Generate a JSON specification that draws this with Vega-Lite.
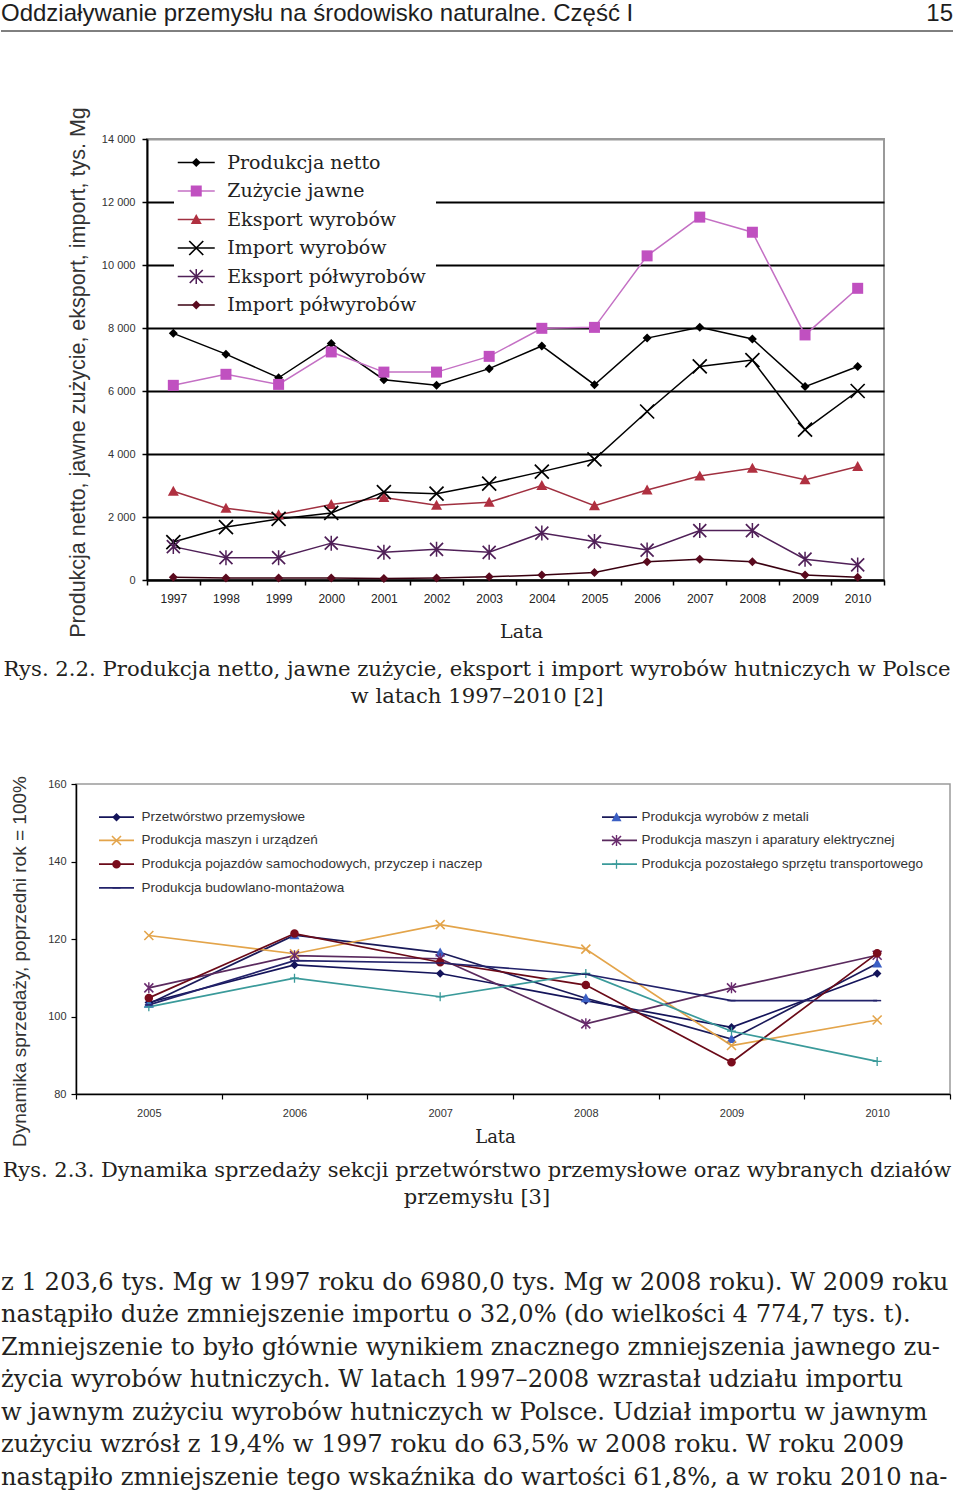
{
  "$schema": "https://vega.github.io/schema/vega-lite/v6.json",
  "background": "white",
  "padding": 0,
  "spacing": 0,
  "config": {"view": {"stroke": null}},
  "resolve": {"scale": {"color": "independent", "stroke": "independent", "shape": "independent", "x": "independent", "y": "independent"}, "legend": {"color": "independent", "stroke": "independent", "shape": "independent"}},
  "vconcat": [
    {
      "width": 952, "height": 31,
      "layer": [
        {
          "data": {"values": [{"t": "Oddziaływanie przemysłu na środowisko naturalne. Część I", "s": "L"}]},
          "mark": {"type": "text", "align": "left", "baseline": "middle", "font": "Liberation Sans", "fontSize": 24, "color": "#1e1e1e"},
          "encoding": {
            "x": {"field": "s", "type": "nominal", "scale": {"type": "point", "domain": ["L", "R"], "padding": 0}, "axis": null},
            "y": {"datum": 0.55, "type": "quantitative", "scale": {"domain": [0, 1]}, "axis": null},
            "text": {"field": "t"}
          }
        },
        {
          "data": {"values": [{"t": "15", "s": "R"}]},
          "mark": {"type": "text", "align": "right", "baseline": "middle", "font": "Liberation Sans", "fontSize": 24, "color": "#1e1e1e"},
          "encoding": {
            "x": {"field": "s", "type": "nominal", "scale": {"type": "point", "domain": ["L", "R"], "padding": 0}, "axis": null},
            "y": {"datum": 0.55, "type": "quantitative", "scale": {"domain": [0, 1]}, "axis": null},
            "text": {"field": "t"}
          }
        },
        {
          "data": {"values": [{"r": 1}]},
          "mark": {"type": "rule", "color": "#000000", "strokeWidth": 1},
          "encoding": {"y": {"datum": 0, "type": "quantitative", "scale": {"domain": [0, 1]}, "axis": null}}
        }
      ]
    },
    {"width": 952, "height": 73, "data": {"values": [{"s": 0}]}, "mark": {"type": "point", "opacity": 0}},
    {
      "spacing": 0,
      "resolve": {"scale": {"color": "independent", "stroke": "independent", "shape": "independent"}, "legend": {"color": "independent", "stroke": "independent", "shape": "independent"}},
      "hconcat": [
        {"width": 65, "height": 10, "data": {"values": [{"s": 0}]}, "mark": {"type": "point", "opacity": 0}},
        {
          "width": 737, "height": 441,
          "view": {"stroke": "#9a9a9a", "strokeWidth": 2},
          "data": {"values": [
            {"rok": 1997, "seria": "Produkcja netto", "v": 7830},
            {"rok": 1998, "seria": "Produkcja netto", "v": 7170},
            {"rok": 1999, "seria": "Produkcja netto", "v": 6420},
            {"rok": 2000, "seria": "Produkcja netto", "v": 7510},
            {"rok": 2001, "seria": "Produkcja netto", "v": 6360},
            {"rok": 2002, "seria": "Produkcja netto", "v": 6180},
            {"rok": 2003, "seria": "Produkcja netto", "v": 6710},
            {"rok": 2004, "seria": "Produkcja netto", "v": 7430},
            {"rok": 2005, "seria": "Produkcja netto", "v": 6200},
            {"rok": 2006, "seria": "Produkcja netto", "v": 7680},
            {"rok": 2007, "seria": "Produkcja netto", "v": 8020},
            {"rok": 2008, "seria": "Produkcja netto", "v": 7650},
            {"rok": 2009, "seria": "Produkcja netto", "v": 6140},
            {"rok": 2010, "seria": "Produkcja netto", "v": 6780},
            {"rok": 1997, "seria": "Zużycie jawne", "v": 6180},
            {"rok": 1998, "seria": "Zużycie jawne", "v": 6530},
            {"rok": 1999, "seria": "Zużycie jawne", "v": 6210},
            {"rok": 2000, "seria": "Zużycie jawne", "v": 7240},
            {"rok": 2001, "seria": "Zużycie jawne", "v": 6600},
            {"rok": 2002, "seria": "Zużycie jawne", "v": 6600},
            {"rok": 2003, "seria": "Zużycie jawne", "v": 7100},
            {"rok": 2004, "seria": "Zużycie jawne", "v": 7990},
            {"rok": 2005, "seria": "Zużycie jawne", "v": 8020},
            {"rok": 2006, "seria": "Zużycie jawne", "v": 10290},
            {"rok": 2007, "seria": "Zużycie jawne", "v": 11520},
            {"rok": 2008, "seria": "Zużycie jawne", "v": 11040},
            {"rok": 2009, "seria": "Zużycie jawne", "v": 7780},
            {"rok": 2010, "seria": "Zużycie jawne", "v": 9260},
            {"rok": 1997, "seria": "Eksport wyrobów", "v": 2820},
            {"rok": 1998, "seria": "Eksport wyrobów", "v": 2280},
            {"rok": 1999, "seria": "Eksport wyrobów", "v": 2070},
            {"rok": 2000, "seria": "Eksport wyrobów", "v": 2400},
            {"rok": 2001, "seria": "Eksport wyrobów", "v": 2620},
            {"rok": 2002, "seria": "Eksport wyrobów", "v": 2370},
            {"rok": 2003, "seria": "Eksport wyrobów", "v": 2470},
            {"rok": 2004, "seria": "Eksport wyrobów", "v": 3000},
            {"rok": 2005, "seria": "Eksport wyrobów", "v": 2360},
            {"rok": 2006, "seria": "Eksport wyrobów", "v": 2860},
            {"rok": 2007, "seria": "Eksport wyrobów", "v": 3300},
            {"rok": 2008, "seria": "Eksport wyrobów", "v": 3550},
            {"rok": 2009, "seria": "Eksport wyrobów", "v": 3180},
            {"rok": 2010, "seria": "Eksport wyrobów", "v": 3600},
            {"rok": 1997, "seria": "Import wyrobów", "v": 1204},
            {"rok": 1998, "seria": "Import wyrobów", "v": 1680},
            {"rok": 1999, "seria": "Import wyrobów", "v": 1940},
            {"rok": 2000, "seria": "Import wyrobów", "v": 2130},
            {"rok": 2001, "seria": "Import wyrobów", "v": 2790},
            {"rok": 2002, "seria": "Import wyrobów", "v": 2740},
            {"rok": 2003, "seria": "Import wyrobów", "v": 3060},
            {"rok": 2004, "seria": "Import wyrobów", "v": 3440},
            {"rok": 2005, "seria": "Import wyrobów", "v": 3830},
            {"rok": 2006, "seria": "Import wyrobów", "v": 5350},
            {"rok": 2007, "seria": "Import wyrobów", "v": 6780},
            {"rok": 2008, "seria": "Import wyrobów", "v": 6980},
            {"rok": 2009, "seria": "Import wyrobów", "v": 4775},
            {"rok": 2010, "seria": "Import wyrobów", "v": 6000},
            {"rok": 1997, "seria": "Eksport półwyrobów", "v": 1060},
            {"rok": 1998, "seria": "Eksport półwyrobów", "v": 710},
            {"rok": 1999, "seria": "Eksport półwyrobów", "v": 710},
            {"rok": 2000, "seria": "Eksport półwyrobów", "v": 1170},
            {"rok": 2001, "seria": "Eksport półwyrobów", "v": 880},
            {"rok": 2002, "seria": "Eksport półwyrobów", "v": 975},
            {"rok": 2003, "seria": "Eksport półwyrobów", "v": 880},
            {"rok": 2004, "seria": "Eksport półwyrobów", "v": 1490},
            {"rok": 2005, "seria": "Eksport półwyrobów", "v": 1220},
            {"rok": 2006, "seria": "Eksport półwyrobów", "v": 950},
            {"rok": 2007, "seria": "Eksport półwyrobów", "v": 1570},
            {"rok": 2008, "seria": "Eksport półwyrobów", "v": 1570},
            {"rok": 2009, "seria": "Eksport półwyrobów", "v": 660},
            {"rok": 2010, "seria": "Eksport półwyrobów", "v": 480},
            {"rok": 1997, "seria": "Import półwyrobów", "v": 90},
            {"rok": 1998, "seria": "Import półwyrobów", "v": 60},
            {"rok": 1999, "seria": "Import półwyrobów", "v": 60},
            {"rok": 2000, "seria": "Import półwyrobów", "v": 60},
            {"rok": 2001, "seria": "Import półwyrobów", "v": 50},
            {"rok": 2002, "seria": "Import półwyrobów", "v": 60},
            {"rok": 2003, "seria": "Import półwyrobów", "v": 100},
            {"rok": 2004, "seria": "Import półwyrobów", "v": 160},
            {"rok": 2005, "seria": "Import półwyrobów", "v": 240},
            {"rok": 2006, "seria": "Import półwyrobów", "v": 580},
            {"rok": 2007, "seria": "Import półwyrobów", "v": 660},
            {"rok": 2008, "seria": "Import półwyrobów", "v": 580},
            {"rok": 2009, "seria": "Import półwyrobów", "v": 160},
            {"rok": 2010, "seria": "Import półwyrobów", "v": 85}
          ]},
          "encoding": {
            "x": {"field": "rok", "type": "ordinal", "scale": {"type": "band", "paddingInner": 0, "paddingOuter": 0},
              "axis": {"title": "Lata", "titleFont": "DejaVu Serif", "titleFontSize": 19, "titleFontWeight": "normal", "titleColor": "#222222", "titlePadding": 18, "titleX": 374,
                "labelFont": "Liberation Sans", "labelFontSize": 12, "labelColor": "#222222", "labelAngle": 0, "labelPadding": 8,
                "tickBand": "extent", "tickSize": 5, "tickColor": "#000000", "tickWidth": 1.5, "domainColor": "#000000", "domainWidth": 2, "grid": false}},
            "y": {"field": "v", "type": "quantitative", "scale": {"domain": [0, 14000], "nice": false},
              "axis": {"title": "Produkcja netto, jawne zużycie, eksport, import, tys. Mg", "values": [0, 2000, 4000, 6000, 8000, 10000, 12000, 14000],
                "labelExpr": "replace(format(datum.value, ','), ',', ' ')",
                "grid": true, "gridColor": {"condition": {"test": "datum.value >= 14000", "value": "#9a9a9a"}, "value": "#000000"}, "gridWidth": 2,
                "domainColor": "#000000", "domainWidth": 2, "tickColor": "#000000", "tickSize": 5, "tickWidth": 1.5,
                "labelFont": "Liberation Sans", "labelFontSize": 11, "labelColor": "#333333", "labelPadding": 7,
                "titleFont": "Liberation Sans", "titleFontSize": 21.5, "titleFontWeight": "normal", "titleColor": "#333333", "titlePadding": 12, "titleY": 233}}
          },
          "layer": [
            {
              "mark": {"type": "line", "strokeWidth": 1.5},
              "encoding": {
                "stroke": {"field": "seria", "type": "nominal",
                  "sort": ["Produkcja netto", "Zużycie jawne", "Eksport wyrobów", "Import wyrobów", "Eksport półwyrobów", "Import półwyrobów"],
                  "scale": {"range": ["#000000", "#c470c4", "#a03040", "#000000", "#502058", "#3a0010"]},
                  "legend": {"orient": "none", "legendX": 27, "legendY": 4, "title": null, "fillColor": "#ffffff", "padding": 10,
                    "symbolType": "M-3.7,0H3.7", "symbolSize": 100, "symbolStrokeWidth": 1.5, "symbolOffset": 2.75, "rowPadding": 8.5,
                    "labelFont": "DejaVu Serif", "labelFontSize": 19, "labelColor": "#222222", "labelOpacity": 0, "labelOffset": 21.5, "labelLimit": 600}}
              }
            },
            {
              "mark": {"type": "point", "filled": true, "size": 100, "opacity": 1},
              "encoding": {
                "shape": {"field": "seria", "type": "nominal",
                  "scale": {"domain": ["Produkcja netto", "Zużycie jawne", "Eksport wyrobów", "Import wyrobów", "Eksport półwyrobów", "Import półwyrobów"],
                    "range": ["M0,-0.9L0.9,0L0,0.9L-0.9,0Z", "M-1.1,-1.1H1.1V1.1H-1.1Z", "M0,-1.1L1.1,0.9H-1.1Z",
                      "M-1.28,-1.52L1.52,1.28L1.28,1.52L-1.52,-1.28ZM-1.28,1.52L-1.52,1.28L1.28,-1.52L1.52,-1.28Z",
                      "M-1.18,-1.42L1.42,1.18L1.18,1.42L-1.42,-1.18ZM-1.18,1.42L-1.42,1.18L1.18,-1.42L1.42,-1.18ZM-0.15,-1.5H0.15V1.5H-0.15Z",
                      "M0,-0.9L0.9,0L0,0.9L-0.9,0Z"]}},
                "color": {"field": "seria", "type": "nominal",
                  "scale": {"domain": ["Produkcja netto", "Zużycie jawne", "Eksport wyrobów", "Import wyrobów", "Eksport półwyrobów", "Import półwyrobów"],
                    "range": ["#000000", "#c050c0", "#b03040", "#000000", "#502058", "#5a0a1e"]},
                  "legend": {"orient": "none", "legendX": 27, "legendY": 4, "title": null, "padding": 10,
                    "symbolSize": 100, "symbolStrokeWidth": 1.5, "symbolOffset": 2.75, "rowPadding": 8.5,
                    "labelFont": "DejaVu Serif", "labelFontSize": 19, "labelColor": "#222222", "labelOffset": 21.5, "labelLimit": 600}}
              }
            }
          ]
        }
      ]
    },
    {
      "width": 952, "height": 83,
      "data": {"values": [{"t": "Rys. 2.2. Produkcja netto, jawne zużycie, eksport i import wyrobów hutniczych w Polsce\nw latach 1997–2010 [2]"}]},
      "mark": {"type": "text", "font": "DejaVu Serif", "fontSize": 21.2, "lineHeight": 27, "lineBreak": "\n", "align": "center", "baseline": "middle", "color": "#231f20"},
      "encoding": {"text": {"field": "t"}, "y": {"datum": 0.663, "type": "quantitative", "scale": {"domain": [0, 1]}, "axis": null}}
    },
    {"width": 952, "height": 49, "data": {"values": [{"s": 0}]}, "mark": {"type": "point", "opacity": 0}},
    {
      "spacing": 0,
      "resolve": {"scale": {"color": "independent", "stroke": "independent", "shape": "independent"}, "legend": {"color": "independent", "stroke": "independent", "shape": "independent"}},
      "hconcat": [
        {"width": 8, "height": 10, "data": {"values": [{"s": 0}]}, "mark": {"type": "point", "opacity": 0}},
        {
          "width": 874, "height": 310,
          "view": {"stroke": "#9a9a9a", "strokeWidth": 1.5},
          "data": {"values": [
            {"rok": 2005, "seria": "Przetwórstwo przemysłowe", "v": 103.6},
            {"rok": 2006, "seria": "Przetwórstwo przemysłowe", "v": 113.3},
            {"rok": 2007, "seria": "Przetwórstwo przemysłowe", "v": 111.1},
            {"rok": 2008, "seria": "Przetwórstwo przemysłowe", "v": 104.1},
            {"rok": 2009, "seria": "Przetwórstwo przemysłowe", "v": 97.2},
            {"rok": 2010, "seria": "Przetwórstwo przemysłowe", "v": 111.1},
            {"rok": 2005, "seria": "Produkcja wyrobów z metali", "v": 103.3},
            {"rok": 2006, "seria": "Produkcja wyrobów z metali", "v": 121.0},
            {"rok": 2007, "seria": "Produkcja wyrobów z metali", "v": 116.5},
            {"rok": 2008, "seria": "Produkcja wyrobów z metali", "v": 104.7},
            {"rok": 2009, "seria": "Produkcja wyrobów z metali", "v": 94.2},
            {"rok": 2010, "seria": "Produkcja wyrobów z metali", "v": 113.7},
            {"rok": 2005, "seria": "Produkcja maszyn i urządzeń", "v": 120.9},
            {"rok": 2006, "seria": "Produkcja maszyn i urządzeń", "v": 116.2},
            {"rok": 2007, "seria": "Produkcja maszyn i urządzeń", "v": 123.7},
            {"rok": 2008, "seria": "Produkcja maszyn i urządzeń", "v": 117.4},
            {"rok": 2009, "seria": "Produkcja maszyn i urządzeń", "v": 92.5},
            {"rok": 2010, "seria": "Produkcja maszyn i urządzeń", "v": 99.1},
            {"rok": 2005, "seria": "Produkcja maszyn i aparatury elektrycznej", "v": 107.4},
            {"rok": 2006, "seria": "Produkcja maszyn i aparatury elektrycznej", "v": 115.7},
            {"rok": 2007, "seria": "Produkcja maszyn i aparatury elektrycznej", "v": 114.9},
            {"rok": 2008, "seria": "Produkcja maszyn i aparatury elektrycznej", "v": 98.1},
            {"rok": 2009, "seria": "Produkcja maszyn i aparatury elektrycznej", "v": 107.4},
            {"rok": 2010, "seria": "Produkcja maszyn i aparatury elektrycznej", "v": 115.8},
            {"rok": 2005, "seria": "Produkcja pojazdów samochodowych, przyczep i naczep", "v": 104.8},
            {"rok": 2006, "seria": "Produkcja pojazdów samochodowych, przyczep i naczep", "v": 121.4},
            {"rok": 2007, "seria": "Produkcja pojazdów samochodowych, przyczep i naczep", "v": 114.0},
            {"rok": 2008, "seria": "Produkcja pojazdów samochodowych, przyczep i naczep", "v": 108.1},
            {"rok": 2009, "seria": "Produkcja pojazdów samochodowych, przyczep i naczep", "v": 88.2},
            {"rok": 2010, "seria": "Produkcja pojazdów samochodowych, przyczep i naczep", "v": 116.3},
            {"rok": 2005, "seria": "Produkcja pozostałego sprzętu transportowego", "v": 102.5},
            {"rok": 2006, "seria": "Produkcja pozostałego sprzętu transportowego", "v": 109.9},
            {"rok": 2007, "seria": "Produkcja pozostałego sprzętu transportowego", "v": 105.1},
            {"rok": 2008, "seria": "Produkcja pozostałego sprzętu transportowego", "v": 111.1},
            {"rok": 2009, "seria": "Produkcja pozostałego sprzętu transportowego", "v": 96.2},
            {"rok": 2010, "seria": "Produkcja pozostałego sprzętu transportowego", "v": 88.4},
            {"rok": 2005, "seria": "Produkcja budowlano-montażowa", "v": 103.0},
            {"rok": 2006, "seria": "Produkcja budowlano-montażowa", "v": 114.4},
            {"rok": 2007, "seria": "Produkcja budowlano-montażowa", "v": 113.8},
            {"rok": 2008, "seria": "Produkcja budowlano-montażowa", "v": 110.9},
            {"rok": 2009, "seria": "Produkcja budowlano-montażowa", "v": 104.1},
            {"rok": 2010, "seria": "Produkcja budowlano-montażowa", "v": 104.1}
          ]},
          "encoding": {
            "x": {"field": "rok", "type": "ordinal", "scale": {"type": "band", "paddingInner": 0, "paddingOuter": 0},
              "axis": {"title": "Lata", "titleFont": "DejaVu Serif", "titleFontSize": 18, "titleFontWeight": "normal", "titleColor": "#222222", "titlePadding": 10, "titleX": 419,
                "labelFont": "Liberation Sans", "labelFontSize": 11, "labelColor": "#333333", "labelAngle": 0, "labelPadding": 8,
                "tickBand": "extent", "tickSize": 5, "tickColor": "#000000", "tickWidth": 1.2, "domainColor": "#000000", "domainWidth": 1.5, "grid": false}},
            "y": {"field": "v", "type": "quantitative", "scale": {"domain": [80, 160], "nice": false},
              "axis": {"title": "Dynamika sprzedaży, poprzedni rok = 100%", "values": [80, 100, 120, 140, 160], "grid": false,
                "domainColor": "#000000", "domainWidth": 1.5, "tickColor": "#000000", "tickSize": 5, "tickWidth": 1.2,
                "labelFont": "Liberation Sans", "labelFontSize": 11, "labelColor": "#333333", "labelPadding": 5,
                "titleFont": "Liberation Sans", "titleFontSize": 19, "titleFontWeight": "normal", "titleColor": "#333333", "titlePadding": 18, "titleY": 177}}
          },
          "layer": [
            {
              "mark": {"type": "line", "strokeWidth": 1.7},
              "encoding": {
                "stroke": {"field": "seria", "type": "nominal",
                  "sort": ["Przetwórstwo przemysłowe", "Produkcja maszyn i urządzeń", "Produkcja pojazdów samochodowych, przyczep i naczep", "Produkcja budowlano-montażowa", "Produkcja wyrobów z metali", "Produkcja maszyn i aparatury elektrycznej", "Produkcja pozostałego sprzętu transportowego"],
                  "scale": {"range": ["#14145a", "#e3a44a", "#6a0a18", "#22226a", "#1a1a5a", "#5a2a5e", "#3a9a9a"]},
                  "legend": {"orient": "none", "legendX": 33.75, "legendY": 26, "title": null, "columns": 2, "columnPadding": 456, "padding": 0,
                    "symbolType": "M-3.5,0H3.5", "symbolSize": 100, "symbolStrokeWidth": 1.7, "rowPadding": 8.7,
                    "labelExpr": "''", "labelFont": "Liberation Sans", "labelFontSize": 13.5, "labelColor": "#333333", "labelOpacity": 0, "labelOffset": 18.3, "labelLimit": 600}}
              }
            },
            {
              "mark": {"type": "point", "filled": true, "size": 100, "opacity": 1},
              "encoding": {
                "shape": {"field": "seria", "type": "nominal",
                  "scale": {"domain": ["Przetwórstwo przemysłowe", "Produkcja maszyn i urządzeń", "Produkcja pojazdów samochodowych, przyczep i naczep", "Produkcja budowlano-montażowa", "Produkcja wyrobów z metali", "Produkcja maszyn i aparatury elektrycznej", "Produkcja pozostałego sprzętu transportowego"],
                    "range": ["M0,-0.85L0.85,0L0,0.85L-0.85,0Z",
                      "M-0.79,-1.01L1.01,0.79L0.79,1.01L-1.01,-0.79ZM-0.79,1.01L-1.01,0.79L0.79,-1.01L1.01,-0.79Z",
                      "M0.85,0A0.85,0.85 0 1,1 -0.85,0A0.85,0.85 0 1,1 0.85,0Z",
                      "M-0.8,-0.15H0.8V0.15H-0.8Z",
                      "M0,-1L1,0.8H-1Z",
                      "M-0.79,-1.01L1.01,0.79L0.79,1.01L-1.01,-0.79ZM-0.79,1.01L-1.01,0.79L0.79,-1.01L1.01,-0.79ZM-0.14,-1.1H0.14V1.1H-0.14Z",
                      "M-0.9,-0.13H0.9V0.13H-0.9ZM-0.13,-0.9H0.13V0.9H-0.13Z"]}},
                "color": {"field": "seria", "type": "nominal",
                  "scale": {"domain": ["Przetwórstwo przemysłowe", "Produkcja maszyn i urządzeń", "Produkcja pojazdów samochodowych, przyczep i naczep", "Produkcja budowlano-montażowa", "Produkcja wyrobów z metali", "Produkcja maszyn i aparatury elektrycznej", "Produkcja pozostałego sprzętu transportowego"],
                    "range": ["#14145a", "#e3a44a", "#7a0c1c", "#22226a", "#3b5fc4", "#6a2a6e", "#3a9a9a"]},
                  "legend": {"orient": "none", "legendX": 33.75, "legendY": 26, "title": null, "columns": 2, "columnPadding": 127, "padding": 0,
                    "symbolSize": 100, "symbolStrokeWidth": 1.7, "rowPadding": 8.7,
                    "labelFont": "Liberation Sans", "labelFontSize": 13.5, "labelColor": "#333333", "labelOffset": 18.3, "labelLimit": 600}}
              }
            }
          ]
        }
      ]
    },
    {
      "width": 952, "height": 76,
      "data": {"values": [{"t": "Rys. 2.3. Dynamika sprzedaży sekcji przetwórstwo przemysłowe oraz wybranych działów\nprzemysłu [3]"}]},
      "mark": {"type": "text", "font": "DejaVu Serif", "fontSize": 21, "lineHeight": 27, "lineBreak": "\n", "align": "center", "baseline": "middle", "color": "#231f20"},
      "encoding": {"text": {"field": "t"}, "y": {"datum": 0.701, "type": "quantitative", "scale": {"domain": [0, 1]}, "axis": null}}
    },
    {"width": 952, "height": 40, "data": {"values": [{"s": 0}]}, "mark": {"type": "point", "opacity": 0}},
    {
      "width": 952, "height": 232,
      "data": {"values": [{"t": "z 1 203,6 tys. Mg w 1997 roku do 6980,0 tys. Mg w 2008 roku). W 2009 roku\nnastąpiło duże zmniejszenie importu o 32,0% (do wielkości 4 774,7 tys. t).\nZmniejszenie to było głównie wynikiem znacznego zmniejszenia jawnego zu-\nżycia wyrobów hutniczych. W latach 1997–2008 wzrastał udziału importu\nw jawnym zużyciu wyrobów hutniczych w Polsce. Udział importu w jawnym\nzużyciu wzrósł z 19,4% w 1997 roku do 63,5% w 2008 roku. W roku 2009\nnastąpiło zmniejszenie tego wskaźnika do wartości 61,8%, a w roku 2010 na-"}]},
      "mark": {"type": "text", "font": "DejaVu Serif", "fontSize": 24.2, "lineHeight": 32.5, "lineBreak": "\n", "align": "left", "baseline": "middle", "color": "#231f20"},
      "encoding": {
        "text": {"field": "t"},
        "x": {"datum": 0, "type": "quantitative", "scale": {"domain": [0, 1]}, "axis": null},
        "y": {"datum": 0.919, "type": "quantitative", "scale": {"domain": [0, 1]}, "axis": null}
      }
    }
  ]
}
